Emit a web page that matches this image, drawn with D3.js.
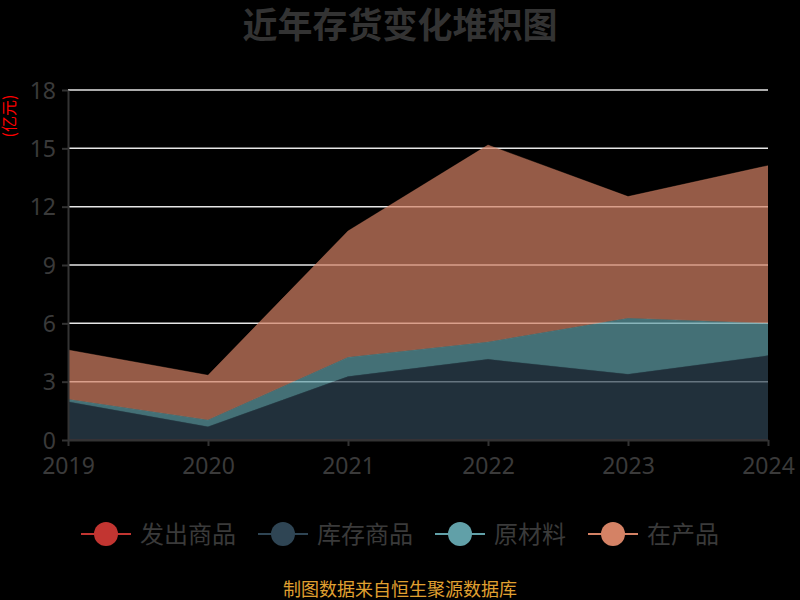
<!DOCTYPE html>
<html><head><meta charset="utf-8">
<script src="https://cdn.jsdelivr.net/npm/d3@7"></script>
<style>html,body{margin:0;padding:0;background:#000;}svg{display:block;}</style>
</head><body>
<svg id="chart" width="800" height="600"></svg>
<script>
const years = ["2019","2020","2021","2022","2023","2024"];
const seriesNames = ["发出商品","库存商品","原材料","在产品"];
const faChu = [0, 0, 0, 0, 0, 0];
const kuCun = [1.97, 0.68, 3.26, 4.15, 3.38, 4.34];
const yuanCai = [0.12, 0.35, 0.99, 0.89, 2.88, 1.66];
const zaiChan = [2.54, 2.30, 6.50, 10.13, 6.26, 8.11];
const yTicks = [0, 3, 6, 9, 12, 15, 18];
const colors = ["#c23531", "#2f4554", "#61a0a8", "#d48265"];

const svg = d3.select("#chart");
const x = d3.scalePoint().domain(years).range([68, 768]);
const y = d3.scaleLinear().domain([0, 18]).range([440, 90]);
const font = "'Noto Sans','Open Sans',sans-serif";
const cjk = "'Noto Sans CJK SC','Noto Sans',sans-serif";

// title
svg.append("text").attr("x", 400).attr("y", 38).attr("text-anchor", "middle")
  .attr("font-family", cjk).attr("font-weight", "bold").attr("font-size", 35)
  .attr("fill", "#333").text("近年存货变化堆积图");

// y-axis unit
svg.append("text").attr("transform", "translate(9,116) rotate(-90)")
  .attr("text-anchor", "middle").attr("dy", "0.35em").attr("font-family", cjk).attr("font-size", 16)
  .attr("fill", "#ff0000").text("(亿元)");

// gridlines
svg.append("g").selectAll("line").data(yTicks.filter(d => d > 0)).join("line")
  .attr("x1", 68).attr("x2", 768).attr("y1", d => y(d)).attr("y2", d => y(d))
  .attr("stroke", "#e6e6e6").attr("stroke-width", 1.5);

// stacked data
const table = years.map((yr, i) => ({
  year: yr, "发出商品": faChu[i], "库存商品": kuCun[i], "原材料": yuanCai[i], "在产品": zaiChan[i]
}));
const stacked = d3.stack().keys(seriesNames)(table);
const area = d3.area().x(d => x(d.data.year)).y0(d => y(d[0])).y1(d => y(d[1]));
const line = d3.line().x(d => x(d.data.year)).y(d => y(d[1]));

svg.append("g").selectAll("path").data(stacked).join("path")
  .attr("d", area).attr("fill", (d, i) => colors[i]).attr("fill-opacity", 0.7);
svg.append("g").selectAll("path").data(stacked).join("path")
  .attr("d", line).attr("fill", "none").attr("stroke", (d, i) => colors[i])
  .attr("stroke-width", 0.6).attr("stroke-opacity", 0.5);

// axes
const xAxis = svg.append("g").attr("transform", "translate(0,440)")
  .call(d3.axisBottom(x).tickSizeOuter(0).tickSizeInner(6).tickPadding(8));
const yAxis = svg.append("g").attr("transform", "translate(68,0)")
  .call(d3.axisLeft(y).tickValues(yTicks).tickSizeOuter(0).tickSizeInner(6).tickPadding(6));
[xAxis, yAxis].forEach(g => {
  g.select(".domain").attr("stroke", "#333").attr("stroke-width", 2);
  g.selectAll(".tick line").attr("stroke", "#333").attr("stroke-width", 2);
  g.selectAll(".tick text").attr("fill", "#3a3a3a").attr("font-family", font).attr("font-size", 23);
});
xAxis.selectAll(".tick text").attr("dy", "0.85em");
yAxis.selectAll(".tick text").attr("dy", "0.35em");

// legend
const legendX = [81, 258, 435, 588];
const lg = svg.append("g").selectAll("g").data(seriesNames).join("g")
  .attr("transform", (d, i) => `translate(${legendX[i]},534)`);
lg.append("line").attr("x1", 0).attr("x2", 50).attr("y1", 0).attr("y2", 0)
  .attr("stroke", (d, i) => colors[i]).attr("stroke-width", 2);
lg.append("circle").attr("cx", 25).attr("cy", 0).attr("r", 12)
  .attr("fill", (d, i) => colors[i]);
lg.append("text").attr("x", 59).attr("y", 0).attr("dy", "0.36em")
  .attr("font-family", cjk).attr("font-size", 24).attr("fill", "#3a3a3a").text(d => d);

// footer
svg.append("text").attr("x", 400).attr("y", 596).attr("text-anchor", "middle")
  .attr("font-family", cjk).attr("font-size", 18).attr("fill", "#e0a030")
  .text("制图数据来自恒生聚源数据库");
</script>
</body></html>
